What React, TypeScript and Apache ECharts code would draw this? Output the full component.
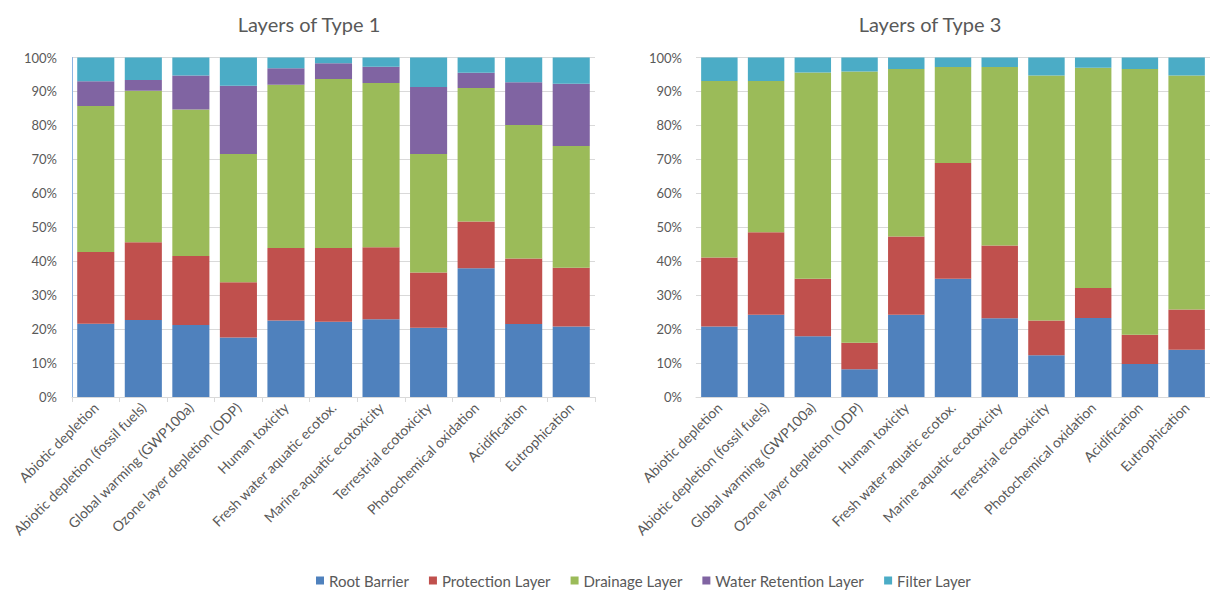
import React, { useEffect, useRef } from "react";
import * as echarts from "echarts";

const categories = [
  "Abiotic depletion",
  "Abiotic depletion (fossil fuels)",
  "Global warming (GWP100a)",
  "Ozone layer depletion (ODP)",
  "Human toxicity",
  "Fresh water aquatic ecotox.",
  "Marine aquatic ecotoxicity",
  "Terrestrial ecotoxicity",
  "Photochemical oxidation",
  "Acidification",
  "Eutrophication",
];

const seriesNames = ["Root Barrier", "Protection Layer", "Drainage Layer", "Water Retention Layer", "Filter Layer"];
const seriesColors = ["#4f81bd", "#c0504d", "#9bbb59", "#8064a2", "#4bacc6"];

// Layers of Type 1 (percent shares)
const t1Root = [21.6, 22.7, 21.2, 17.5, 22.5, 22.2, 22.9, 20.4, 37.9, 21.5, 20.8];
const t1Protection = [21.1, 22.9, 20.3, 16.3, 21.4, 21.7, 21.2, 16.3, 13.8, 19.3, 17.3];
const t1Drainage = [43.0, 44.6, 43.2, 37.8, 48.1, 49.8, 48.4, 34.9, 39.3, 39.3, 35.8];
const t1Water = [7.3, 3.2, 10.0, 20.1, 4.8, 4.6, 4.8, 19.7, 4.5, 12.6, 18.4];
const t1Filter = [7.0, 6.6, 5.3, 8.3, 3.2, 1.7, 2.7, 8.7, 4.5, 7.3, 7.7];

// Layers of Type 3 (percent shares)
const t3Root = [20.8, 24.2, 17.9, 8.2, 24.2, 34.8, 23.2, 12.3, 23.3, 9.7, 13.9];
const t3Protection = [20.3, 24.3, 16.9, 7.8, 23.1, 34.1, 21.4, 10.2, 8.8, 8.6, 11.9];
const t3Drainage = [52.0, 44.6, 60.8, 79.9, 49.3, 28.3, 52.6, 72.2, 64.9, 78.3, 68.9];
const t3Water = [0, 0, 0, 0, 0, 0, 0, 0, 0, 0, 0];
const t3Filter = [6.9, 6.9, 4.4, 4.1, 3.4, 2.8, 2.8, 5.3, 3.0, 3.4, 5.3];

const yTicks = [0, 10, 20, 30, 40, 50, 60, 70, 80, 90, 100];

const FONT = "Lato, 'Noto Sans', sans-serif";
const TEXT = "#595959";

export default function App() {
  const ref = useRef<HTMLDivElement>(null);

  useEffect(() => {
    if (!ref.current) return;
    const chart = echarts.init(ref.current, undefined, { renderer: "svg" });

    const t1 = [t1Root, t1Protection, t1Drainage, t1Water, t1Filter];
    const t3 = [t3Root, t3Protection, t3Drainage, t3Water, t3Filter];

    const series: any[] = [];
    [t1, t3].forEach((set, gi) => {
      set.forEach((data, si) => {
        series.push({
          name: seriesNames[si],
          type: "bar",
          stack: gi === 0 ? "t1" : "t3",
          xAxisIndex: gi,
          yAxisIndex: gi,
          data,
          barCategoryGap: "22%",
          itemStyle: { color: seriesColors[si] },
          emphasis: { disabled: true },
        });
      });
    });

    const yAxis = (gi: number) => ({
      type: "value",
      gridIndex: gi,
      min: yTicks[0],
      max: yTicks[yTicks.length - 1],
      interval: 10,
      axisLabel: {
        formatter: "{value}%",
        color: TEXT,
        fontFamily: FONT,
        fontSize: 13,
        margin: gi === 0 ? 15 : 14,
      },
      axisLine: gi === 0 ? { show: true, lineStyle: { color: "#8eb4e3", width: 1 } } : { show: false },
      axisTick: { show: false },
      splitLine: { lineStyle: { color: "#d9d9d9", width: 1 } },
    });

    const xAxis = (gi: number) => ({
      type: "category",
      gridIndex: gi,
      data: categories,
      axisLabel: {
        rotate: 45,
        interval: 0,
        color: TEXT,
        fontFamily: FONT,
        fontSize: 14,
        margin: 8,
      },
      axisLine: { show: true, lineStyle: { color: "#d9d9d9" } },
      axisTick: { show: gi === 0, length: 5, lineStyle: { color: "#d9d9d9" } },
    });

    chart.setOption({
      animation: false,
      backgroundColor: "#ffffff",
      graphic: [
        {
          type: "text",
          x: 309,
          y: 24,
          style: {
            text: "Layers of Type 1",
            fill: TEXT,
            font: `20px ${FONT}`,
            textAlign: "center",
            textVerticalAlign: "middle",
          },
        },
        {
          type: "text",
          x: 930,
          y: 24,
          style: {
            text: "Layers of Type 3",
            fill: TEXT,
            font: `20px ${FONT}`,
            textAlign: "center",
            textVerticalAlign: "middle",
          },
        },
      ],
      legend: {
        data: seriesNames,
        left: 316,
        top: 573,
        padding: 0,
        icon: "rect",
        itemWidth: 8,
        itemHeight: 8,
        itemGap: 20,
        selectedMode: false,
        textStyle: { color: TEXT, fontFamily: FONT, fontSize: 15 },
      },
      grid: [
        { left: 72, top: 57.5, width: 523, height: 339.5, containLabel: false },
        { left: 696, top: 57.5, width: 518, height: 339.5, containLabel: false },
      ],
      xAxis: [xAxis(0), xAxis(1)],
      yAxis: [yAxis(0), yAxis(1)],
      series,
    });

    return () => chart.dispose();
  }, []);

  return (
    <div
      ref={ref}
      style={{ position: "fixed", left: 0, top: 0, width: 1210, height: 593, background: "#fff" }}
    />
  );
}
